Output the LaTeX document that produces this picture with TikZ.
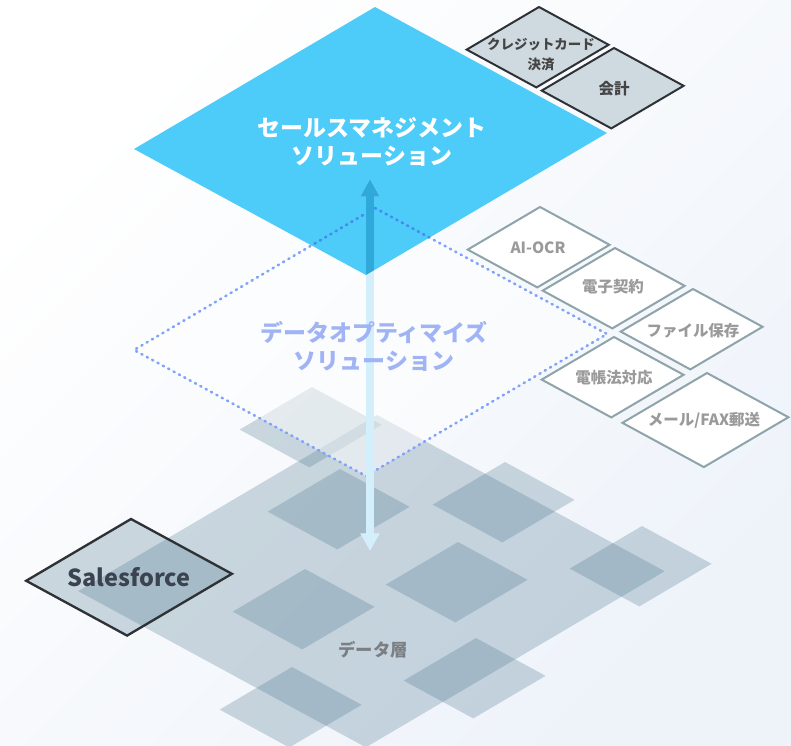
\documentclass[tikz,border=0pt]{standalone}
\usepackage{fontspec}
\setmainfont{Noto Sans CJK JP}
\usetikzlibrary{arrows.meta, positioning}
\definecolor{salesblue}{HTML}{4DCBF9}
\definecolor{salesdeep}{HTML}{2FA8DA}
\definecolor{optline}{HTML}{7FA3FA}
\definecolor{optdeep}{HTML}{3A90EC}
\definecolor{opttxt}{HTML}{A0B4F5}
\definecolor{slate}{HTML}{4B758D}
\definecolor{tilegrey}{HTML}{CFD9E0}
\definecolor{darkline}{HTML}{2E3236}
\definecolor{darktxt}{HTML}{444444}
\definecolor{greyline}{HTML}{8EA3AA}
\definecolor{greytxt}{HTML}{9A9A9A}
\definecolor{sftxt}{HTML}{3C4350}
\definecolor{layertxt}{HTML}{7B7F83}
\definecolor{flowblue}{HTML}{D3EFFC}
\definecolor{bgtint}{HTML}{EEF3FA}

\begin{document}
\begin{tikzpicture}[
        x=0.03cm, y=-0.03cm,
        tile/.pic = {\path[pic actions] (0,0) -- ++(232,126) -- ++(-241,142) -- ++(-232,-126) -- cycle;},
        slab/.style = {fill=slate, fill opacity=.27},
        darkbox/.style = {draw=darkline, line width=1.7pt, fill=tilegrey, scale=.3},
        greybox/.style = {draw=greyline, line width=1.7pt, fill=white, scale=.3},
        dotline/.style = {line width=2.2pt, line cap=round, dash pattern=on 1pt off 4.2pt},
        layerlabel/.style = {font=\bfseries\fontsize{19.6}{24}\selectfont, align=center},
        darklabel/.style = {font=\bfseries\fontsize{11.5}{17}\selectfont, text=darktxt, align=center},
        greylabel/.style = {font=\bfseries\fontsize{13.2}{16}\selectfont, text=greytxt},
        flow/.style = {line width=6pt, {Triangle[length=15pt, width=15.5pt]}-{Triangle[length=15pt, width=15.5pt]}}
    ]

        % background
        \shade[top color=white, bottom color=bgtint, shading angle=45] (0,0) rectangle (791,745);
        \useasboundingbox (0,0) rectangle (791,745);

        % data layer
        \pic[slab, scale=1.24] at (377,415) {tile};
        \foreach \tx/\ty in {312/387, 340/469, 505/462, 305/569, 458/542, 642/526, 292/667, 476/638}
            \pic[slab, scale=.3] at (\tx,\ty) {tile};
        \pic[slab, draw=darkline, line width=2pt, scale=.435] at (131,519) {tile};

        % optimize layer and sales layer
        \pic[fill=white, fill opacity=.5] at (375,208) {tile};
        \pic[fill=salesblue] at (375,7) {tile};
        \pic[draw=optline, dotline] at (375,208) {tile};

        \coordinate (flowLow) at (370,551);
        \coordinate (flowHigh) at (370,179);
        \draw[flow, flowblue] (flowLow) -- (flowHigh);

        \begin{scope}
            \clip (375,7) -- ++(232,126) -- ++(-241,142) -- ++(-232,-126) -- cycle;
            \pic[draw=optdeep, dotline] at (375,208) {tile};
            \draw[flow, salesdeep] (flowLow) -- (flowHigh);
        \end{scope}

        % service boxes
        \pic[darkbox] at (539,7) {tile};
        \pic[darkbox] at (614,48) {tile};
        \pic[greybox] at (540,207) {tile};
        \pic[greybox] at (615,248) {tile};
        \pic[greybox] at (693,289) {tile};
        \pic[greybox] at (614,337) {tile};
        \pic[greybox, scale=1.17] at (707,373) {tile};

        % labels
        \node[layerlabel, text=white] (sales) at (372,142) {セールスマネジメント\\ソリューション};
        \node[layerlabel, text=opttxt] (optimize) at (374,346) {データオプティマイズ\\ソリューション};
        \node[font=\bfseries\fontsize{14.8}{18}\selectfont, text=layertxt] (dataLayer) at (373,650) {データ層};
        \node[font=\bfseries\fontsize{20}{24}\selectfont, text=sftxt] (salesforce) at (129,577) {Salesforce};
        \node[darklabel] (card) at (541,55) {クレジットカード\\決済};
        \node[darklabel, font=\bfseries\fontsize{13.2}{16}\selectfont] (accounting) at (614,89) {会計};
        \node[greylabel] (ocr) at (538,248) {AI-OCR};
        \node[greylabel] (contract) at (613,287) {電子契約};
        \node[greylabel] (storage) at (693,331) {ファイル保存};
        \node[greylabel] (ebook) at (614,378) {電帳法対応};
        \node[greylabel] (mailfax) at (704,420) {メール/FAX郵送};

\end{tikzpicture}
\end{document}
